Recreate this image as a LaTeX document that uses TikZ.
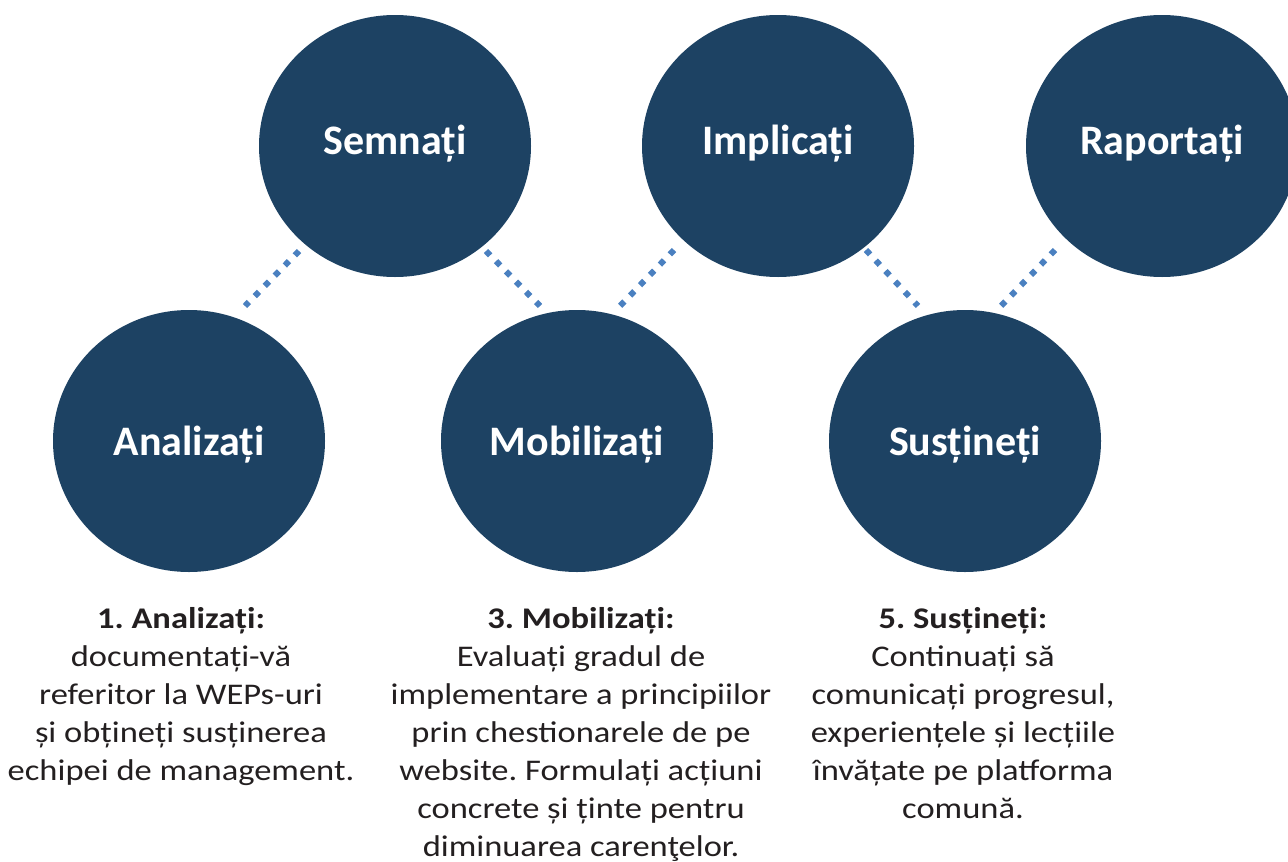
\documentclass[tikz,border=0pt]{standalone}
\usepackage{fontspec}
\setmainfont{Carlito}
\newfontfamily\notefont[FakeStretch=1.15]{Carlito}
\frenchspacing
\usetikzlibrary{shapes.geometric,positioning}
\definecolor{navy}{HTML}{1D4263}
\definecolor{dotblue}{HTML}{4A80C0}
\definecolor{ink}{HTML}{231F20}

\begin{document}
\begin{tikzpicture}[x=1pt,y=-1pt,node distance=388pt,
    phase node/.style={ellipse,fill=navy,minimum width=272pt,minimum height=262pt,inner sep=0pt,
      text=white,font=\fontsize{42}{50}\selectfont\bfseries,text height=28pt,text depth=12pt},
    note node/.style={align=center,text=ink,inner sep=0pt,font=\notefont\fontsize{30}{38}\selectfont},
    link/.style={draw=dotblue,line width=6pt,dash pattern=on 6pt off 8.3pt}]
\useasboundingbox (0,0) rectangle (1288,862);

\node[phase node,text depth=0pt] (analizati) at (189,441) {Analizați};
\node[phase node,text depth=0pt] (mobilizati) [right of=analizati] {Mobilizați};
\node[phase node,text depth=0pt] (sustineti) [right of=mobilizati] {Susțineți};

\node[phase node] (semnati) at (395,146) {Semnați};
\node[phase node,node distance=383pt] (implicati) [right of=semnati] {Implicați};
\node[phase node,node distance=384pt] (raportati) [right of=implicati] {Raportați};

\draw[link] ([shift={(-96,105)}]semnati.center) -- ([shift={(56,-135)}]analizati.center);
\draw[link] ([shift={(91,105)}]semnati.center) -- ([shift={(-37,-135)}]mobilizati.center);
\draw[link] ([shift={(-104,104)}]implicati.center) -- ([shift={(43,-135)}]mobilizati.center);
\draw[link] ([shift={(88,104)}]implicati.center) -- ([shift={(-47,-135)}]sustineti.center);
\draw[link] ([shift={(-107,104)}]raportati.center) -- ([shift={(36,-135)}]sustineti.center);

\node[note node,below=35pt of analizati,xshift=-8pt] (analizati note)
  {\textbf{1. Analizați:}\\documentați-vă\\referitor la WEPs-uri\\și obțineți susținerea\\echipei de management.};
\node[note node,below=35pt of mobilizati,xshift=4pt] (mobilizati note)
  {\textbf{3. Mobilizați:}\\Evaluați gradul de\\implementare a principiilor\\prin chestionarele de pe\\website. Formulați acțiuni\\concrete și ținte pentru\\diminuarea carenţelor.};
\node[note node,below=35pt of sustineti,xshift=-2pt] (sustineti note)
  {\textbf{5. Susțineți:}\\Continuați să\\comunicați progresul,\\experiențele și lecțiile\\învățate pe platforma\\comună.};

\end{tikzpicture}
\end{document}
